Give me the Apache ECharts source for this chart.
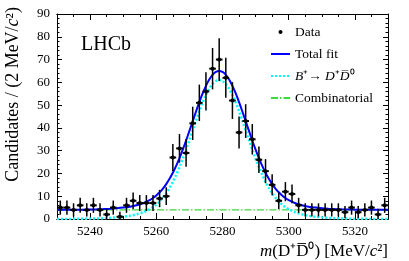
<!DOCTYPE html>
<html>
<head>
<meta charset="utf-8">
<script src="https://cdn.jsdelivr.net/npm/echarts@6/dist/echarts.min.js"></script>
<style>html,body{margin:0;padding:0;background:#fff}#c{width:409px;height:261px}</style>
</head>
<body>
<div id="c"></div>
<script>
// ---- data ----
const binCenters = [5231,5233,5235,5237,5239,5241,5243,5245,5247,5249,5251,5253,5255,5257,5259,5261,5263,
  5265,5267,5269,5271,5273,5275,5277,5279,5281,5283,5285,5287,5289,5291,5293,5295,5297,5299,5301,
  5303,5305,5307,5309,5311,5313,5315,5317,5319,5321,5323,5325,5327,5329];
const counts = [5,5,4,6,4,6,4,2,5,1,6,8,7,7,7,9,10,
  27,31,29,42,51,56,66,70,62,52,38,43,35,26,21,15,8,12,11,
  6,4,4,4,4,4,4,3,5,3,4,5,2,6];
const errors = [3.1,3.1,2.9,3.3,2.9,3.3,2.9,2.5,3.1,2.2,3.3,3.6,3.5,3.5,3.5,3.8,3.9,
  5.9,6.3,6.1,7.3,8.0,8.4,9.1,9.4,8.8,8.1,7.0,7.4,6.7,5.8,5.3,4.6,3.6,4.2,4.1,
  3.3,2.9,2.9,2.9,2.9,2.9,2.9,2.7,3.1,2.7,2.9,3.1,2.5,3.3];
const binHalfWidth = 1;

const fitX = [5230,5232,5234,5236,5238,5240,5242,5244,5246,5248,5250,5252,5254,5256,5258,
  5259,5260,5261,5262,5263,5264,5265,5266,5267,5268,5269,5270,5271,5272,5273,5274,5275,5276,5277,5278,
  5279,5280,5281,5282,5283,5284,5285,5286,5287,5288,5289,5290,5291,5292,5293,5294,5295,5296,5297,5298,5299,
  5300,5302,5304,5306,5308,5310,5312,5314,5316,5318,5320,5322,5324,5326,5328,5330];
const signalFit = [0.02,0.03,0.05,0.07,0.11,0.17,0.24,0.35,0.51,0.72,1.01,1.42,2.03,2.93,4.29,
  5.21,6.35,7.72,9.37,11.33,13.65,16.32,19.35,22.75,26.47,30.46,34.66,38.94,43.20,47.30,51.10,54.45,57.22,59.29,60.57,
  61.00,60.57,59.29,57.22,54.45,51.10,47.30,43.20,38.94,34.66,30.46,26.47,22.75,19.35,16.32,13.65,11.33,9.37,7.72,6.35,5.21,
  4.29,2.93,2.03,1.42,1.01,0.72,0.51,0.35,0.24,0.17,0.11,0.07,0.05,0.03,0.02,0.01];
const totalFit = [4.02,4.03,4.05,4.07,4.11,4.17,4.24,4.35,4.51,4.72,5.01,5.42,6.03,6.93,8.29,
  9.21,10.35,11.72,13.37,15.33,17.65,20.32,23.35,26.75,30.47,34.46,38.66,42.94,47.20,51.30,55.10,58.45,61.22,63.29,64.57,
  65.00,64.57,63.29,61.22,58.45,55.10,51.30,47.20,42.94,38.66,34.46,30.47,26.75,23.35,20.32,17.65,15.33,13.37,11.72,10.35,9.21,
  8.29,6.93,6.03,5.42,5.01,4.72,4.51,4.35,4.24,4.17,4.11,4.07,4.05,4.03,4.02,4.01];
const combX = [5230, 5330];
const combY = [4.0, 4.0];

const xMajorTicks = [5240, 5260, 5280, 5300, 5320];
const xMinorTicks = [5235,5245,5250,5255,5265,5270,5275,5285,5290,5295,5305,5310,5315,5325];
const xRange = [5230, 5330];
const yRange = [0, 90];

const seriesNames = ['Data', 'Total fit', 'B+→ D+D0', 'Combinatorial'];

// ---- build ----
const serif = 'Liberation Serif';
const zip = (a, b) => a.map((v, i) => [v, b[i]]);
const dataPts = binCenters.map((x, i) => [x, counts[i], errors[i]]);

function xAxisCfg(pos, ticks, len, labels) {
  return {
    type: 'value', position: pos, min: xRange[0], max: xRange[1], interval: 5,
    axisLine: { show: true, onZero: false, lineStyle: { color: '#000', width: 1 } },
    axisTick: { show: true, inside: true, length: len, customValues: ticks, lineStyle: { color: '#000', width: 1 } },
    axisLabel: labels ? { show: true, customValues: xMajorTicks, color: '#000', fontFamily: serif, fontSize: 13, margin: 6,
      formatter: v => String(v) } : { show: false },
    splitLine: { show: false }
  };
}
function yAxisCfg(pos, labels) {
  return {
    type: 'value', position: pos, min: yRange[0], max: yRange[1], interval: 10,
    axisLine: { show: true, onZero: false, lineStyle: { color: '#000', width: 1 } },
    axisTick: { show: true, inside: true, length: 5, lineStyle: { color: '#000' } },
    minorTick: { show: true, splitNumber: 5, length: 2.5, lineStyle: { color: '#000' } },
    axisLabel: labels ? { show: true, color: '#000', fontFamily: serif, fontSize: 13, margin: 7 } : { show: false },
    splitLine: { show: false }
  };
}

const chart = echarts.init(document.getElementById('c'), null, { renderer: 'canvas' });
chart.setOption({
  animation: false,
  backgroundColor: '#fff',
  grid: { left: 57, right: 21, top: 14, bottom: 42, containLabel: false, outerBoundsMode: 'none' },
  xAxis: [
    xAxisCfg('bottom', xMajorTicks, 6, true),
    xAxisCfg('bottom', xMinorTicks, 3, false),
    xAxisCfg('top', xMajorTicks, 6, false),
    xAxisCfg('top', xMinorTicks, 3, false)
  ],
  yAxis: [yAxisCfg('left', true), yAxisCfg('right', false)],
  legend: {
    orient: 'vertical', left: 270, top: 25, padding: 0, itemWidth: 19, itemHeight: 4, itemGap: 8,
    textStyle: {
      color: '#000', fontFamily: serif, fontSize: 13.5,
      rich: { i: { fontStyle: 'italic', fontFamily: serif, fontSize: 13.5 } }
    },
    formatter: function (name) {
      if (name === seriesNames[2]) return '{i|B}\u207A\u2192 {i|D}\u207A{i|D\u0305}\u2070';
      return name;
    },
    data: [
      { name: seriesNames[0], icon: 'circle', itemStyle: { color: '#000' } },
      { name: seriesNames[1], itemStyle: { opacity: 0 } },
      { name: seriesNames[2], itemStyle: { opacity: 0 } },
      { name: seriesNames[3], itemStyle: { opacity: 0 } }
    ]
  },
  graphic: [
    { type: 'text', left: 81, top: 35, style: { text: 'LHCb', fontFamily: serif, fontSize: 20, fill: '#000' } },
    { type: 'text', x: 388, y: 252, style: {
        text: '{i|m}(D\u207A{o|D\u0305}\u2070) [MeV/{i|c}\u00B2]', align: 'right', verticalAlign: 'middle',
        fontFamily: serif, fontSize: 17, fill: '#000',
        rich: { i: { fontStyle: 'italic', fontFamily: serif, fontSize: 17 }, o: { fontFamily: serif, fontSize: 17 } } } },
    { type: 'text', x: 13, y: 7, rotation: Math.PI / 2, style: {
        text: 'Candidates / (2 MeV/{i|c}\u00B2)', align: 'right', verticalAlign: 'middle',
        fontFamily: serif, fontSize: 18, fill: '#000',
        rich: { i: { fontStyle: 'italic', fontFamily: serif, fontSize: 18 } } } }
  ],
  series: [
    {
      name: seriesNames[3], type: 'line', data: zip(combX, combY), showSymbol: false, symbol: 'none',
      lineStyle: { color: '#3ed83e', width: 1.2, type: [7, 2, 1.5, 2] }, itemStyle: { color: '#3ed83e' }, z: 2
    },
    {
      name: seriesNames[2], type: 'line', data: zip(fitX, signalFit), showSymbol: false, symbol: 'none', smooth: 0.3,
      lineStyle: { color: '#00ffff', width: 2.5, type: [2, 2] }, itemStyle: { color: '#00ffff' }, z: 3
    },
    {
      name: seriesNames[1], type: 'line', data: zip(fitX, totalFit), showSymbol: false, symbol: 'none', smooth: 0.3,
      lineStyle: { color: '#0000ff', width: 2 }, itemStyle: { color: '#0000ff' }, z: 4
    },
    {
      name: seriesNames[0], type: 'custom', data: dataPts, clip: true, z: 5,
      itemStyle: { color: '#000' },
      encode: { x: 0, y: 1 },
      renderItem: function (params, api) {
        const x = api.value(0), y = api.value(1), e = api.value(2);
        const c = api.coord([x, y]);
        const lo = api.coord([x, Math.max(0, y - e)]);
        const hi = api.coord([x, y + e]);
        const l = api.coord([x - binHalfWidth, y]);
        const r = api.coord([x + binHalfWidth, y]);
        return {
          type: 'group', children: [
            { type: 'line', shape: { x1: c[0], y1: lo[1], x2: c[0], y2: hi[1] }, style: { stroke: '#000', lineWidth: 1.5 } },
            { type: 'line', shape: { x1: l[0], y1: c[1], x2: r[0], y2: c[1] }, style: { stroke: '#000', lineWidth: 2 } },
            { type: 'circle', shape: { cx: c[0], cy: c[1], r: 2 }, style: { fill: '#000' } }
          ]
        };
      }
    }
  ]
});
</script>
</body>
</html>
